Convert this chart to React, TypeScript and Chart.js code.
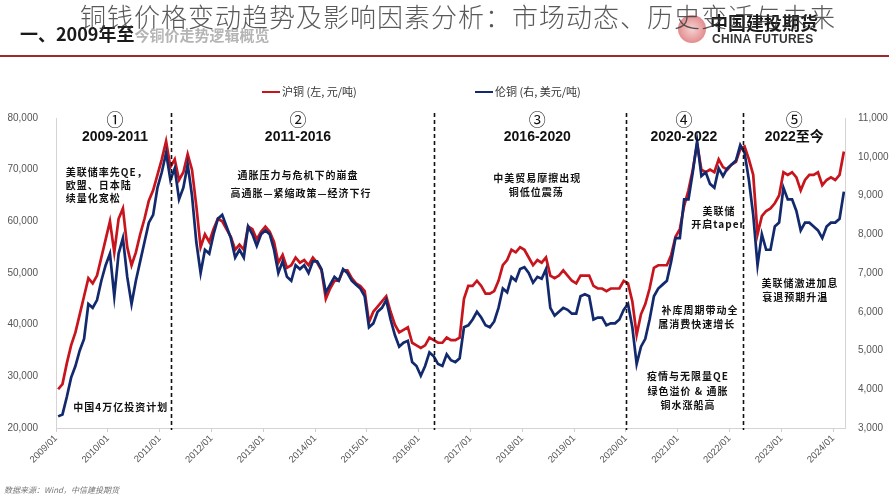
import React, { useEffect, useRef } from 'react';
import { Chart, registerables } from 'chart.js';

Chart.register(...registerables);

// ---- categories: monthly points, 2009/01 .. 2024/03 ----
const months: string[] = [];
for (let y = 2009; y <= 2024; y++) {
  for (let m = 1; m <= 12; m++) {
    if (y === 2024 && m > 3) break;
    months.push(`${y}-${String(m).padStart(2, '0')}`);
  }
}

// 沪铜 SHFE copper, CNY/t (left axis)
const shfe: number[] = [
  27500, 28500, 32500, 36000, 38500, 42000, 45500, 49000, 48000, 49500, 53000, 56500, // 2009
  60000, 54000, 60500, 62500, 55000, 51500, 54000, 57500, 60500, 64000, 66000, 69000, // 2010
  72000, 75500, 70500, 72000, 68000, 69500, 73000, 70000, 63000, 55000, 57500, 56000, // 2011
  58500, 60500, 60000, 58500, 57000, 54500, 55500, 54500, 59000, 58500, 56500, 58000, // 2012
  59000, 58000, 56000, 52000, 53500, 51000, 51500, 53000, 52000, 52500, 51500, 53000, // 2013
  52000, 50500, 45000, 47000, 48500, 48500, 50500, 50500, 49000, 48000, 47500, 46500, // 2014
  40500, 42500, 43500, 44500, 45500, 42500, 40000, 38500, 39000, 39500, 36500, 36000, // 2015
  35500, 36000, 37500, 37000, 36500, 36500, 37500, 37000, 37000, 37500, 45000, 47500, // 2016
  47500, 48500, 47500, 46000, 46000, 46500, 48500, 51500, 52500, 54500, 54000, 55000, // 2017
  54500, 53000, 51500, 52500, 52000, 53000, 49500, 49000, 49500, 50500, 49500, 48500, // 2018
  48000, 49500, 49500, 49500, 47500, 47000, 47000, 46500, 47000, 47000, 47000, 48500, // 2019
  48000, 44500, 38000, 42000, 44000, 47000, 51000, 51500, 51500, 51500, 53500, 57000, // 2020
  58500, 63000, 66000, 70000, 75000, 70000, 69500, 70000, 69500, 72000, 70500, 70000, // 2021
  71000, 71500, 74000, 74500, 72000, 69000, 57500, 61000, 62000, 62500, 63500, 65000, // 2022
  69500, 69000, 69500, 68500, 66000, 68000, 69000, 69000, 69500, 67000, 68000, 68500, // 2023
  68000, 69000, 73500, // 2024
];

// 伦铜 LME copper, USD/t (right axis)
const lme: number[] = [
  3300, 3350, 3800, 4300, 4600, 5000, 5300, 6200, 6100, 6300, 6800, 7200, // 2009
  7500, 6400, 7500, 7900, 6900, 6200, 6800, 7300, 7800, 8300, 8500, 9200, // 2010
  9600, 10100, 9400, 9700, 8900, 9200, 9800, 9000, 7800, 7000, 7600, 7500, // 2011
  8000, 8400, 8500, 8200, 7900, 7400, 7600, 7400, 8200, 8000, 7700, 8000, // 2012
  8100, 8000, 7600, 7000, 7300, 6900, 6800, 7200, 7100, 7200, 7000, 7300, // 2013
  7300, 7100, 6500, 6700, 6900, 6800, 7100, 7000, 6800, 6700, 6600, 6400, // 2014
  5600, 5700, 6000, 6100, 6300, 5800, 5400, 5100, 5200, 5250, 4700, 4600, // 2015
  4350, 4600, 4950, 4850, 4650, 4600, 4900, 4750, 4700, 4800, 5600, 5650, // 2016
  5800, 6000, 5850, 5650, 5600, 5750, 6100, 6600, 6500, 6900, 6800, 7100, // 2017
  7150, 7000, 6750, 6900, 6850, 7100, 6100, 5900, 6000, 6100, 6050, 5950, // 2018
  5950, 6400, 6450, 6400, 5800, 5850, 5850, 5650, 5700, 5700, 5800, 6050, // 2019
  6200, 5600, 4650, 5100, 5300, 5800, 6400, 6600, 6700, 6800, 7300, 7900, // 2020
  7900, 8900, 8900, 9600, 10400, 9500, 9600, 9300, 9200, 9700, 9500, 9700, // 2021
  9800, 9900, 10300, 10100, 9400, 8500, 7200, 8000, 7600, 7600, 8200, 8300, // 2022
  9200, 8900, 8900, 8600, 8100, 8300, 8300, 8200, 8100, 7900, 8200, 8300, // 2023
  8300, 8400, 9100, // 2024
];

const xTickLabels: string[] = [
  '2009/01', '2010/01', '2011/01', '2012/01', '2013/01', '2014/01', '2015/01', '2016/01',
  '2017/01', '2018/01', '2019/01', '2020/01', '2021/01', '2022/01', '2023/01', '2024/01',
];

const seriesNames = ['沪铜 (左, 元/吨)', '伦铜 (右, 美元/吨)'];

// period dividers (fractional years)
const dividers: number[] = [2011.22, 2016.3, 2020.0, 2022.26];

const periodNums = ['①', '②', '③', '④', '⑤'];
const periodLabels = ['2009-2011', '2011-2016', '2016-2020', '2020-2022', '2022至今'];
const periodCenters = [2010.14, 2013.67, 2018.29, 2021.12, 2023.25];

// annotation notes: [text, year, left-axis value, align]
const notes: [string, number, number, CanvasTextAlign][] = [
  ['美联储率先QE，', 2009.19, 69550, 'left'],
  ['欧盟、日本陆', 2009.19, 67030, 'left'],
  ['续量化宽松', 2009.19, 64520, 'left'],
  ['中国4万亿投资计划', 2010.25, 24070, 'center'],
  ['通胀压力与危机下的崩盘', 2013.67, 68970, 'center'],
  ['高通胀—紧缩政策—经济下行', 2013.73, 65480, 'center'],
  ['中美贸易摩擦出现', 2018.29, 68390, 'center'],
  ['铜低位震荡', 2018.27, 65680, 'center'],
  ['美联储', 2021.8, 62000, 'center'],
  ['开启taper', 2021.78, 59480, 'center'],
  ['补库周期带动全', 2021.43, 42840, 'center'],
  ['属消费快速增长', 2021.37, 40130, 'center'],
  ['疫情与无限量QE', 2021.2, 30070, 'center'],
  ['绿色溢价 & 通胀', 2021.2, 27160, 'center'],
  ['铜水涨船高', 2021.2, 24450, 'center'],
  ['美联储激进加息', 2023.36, 48070, 'center'],
  ['衰退预期升温', 2023.27, 45360, 'center'],
];

const RED = '#c8141c';
const BLUE = '#12296e';

const toYear = (m: string) => {
  const [y, mo] = m.split('-').map(Number);
  return y + (mo - 0.5) / 12;
};

const overlayPlugin = {
  id: 'overlay',
  afterDatasetsDraw(chart: any) {
    const { ctx, chartArea, scales } = chart;
    const xs = scales.x;
    const yl = scales.yL;
    ctx.save();
    // dividers
    ctx.setLineDash([4, 3]);
    ctx.strokeStyle = '#111';
    ctx.lineWidth = 1.6;
    dividers.forEach((d) => {
      const x = Math.round(xs.getPixelForValue(d)) + 0.5;
      ctx.beginPath();
      ctx.moveTo(x, chartArea.top - 5);
      ctx.lineTo(x, chartArea.bottom + 2);
      ctx.stroke();
    });
    ctx.setLineDash([]);

    // period headings
    ctx.fillStyle = '#111';
    ctx.textAlign = 'center';
    ctx.textBaseline = 'middle';
    periodNums.forEach((n, i) => {
      const x = xs.getPixelForValue(periodCenters[i]);
      ctx.font = '17px "Noto Sans CJK SC", "DejaVu Sans", sans-serif';
      ctx.fillText(n, x, chartArea.top + 2);
      ctx.font = 'bold 14px "Liberation Sans", "Noto Sans CJK SC", sans-serif';
      ctx.fillText(periodLabels[i], x, chartArea.top + 19);
    });

    // notes
    ctx.font = 'bold 10px "Noto Sans CJK SC", sans-serif';
    try { (ctx as any).letterSpacing = '1px'; } catch (e) { /* ignore */ }
    notes.forEach(([t, yr, v, al]) => {
      ctx.textAlign = al;
      ctx.fillText(t, xs.getPixelForValue(yr), yl.getPixelForValue(v));
    });
    try { (ctx as any).letterSpacing = '0px'; } catch (e) { /* ignore */ }

    // legend
    ctx.font = '11px "Noto Sans CJK SC", sans-serif';
    ctx.textAlign = 'left';
    ctx.fillStyle = '#333';
    const items: [string, string, number][] = [
      [seriesNames[0], RED, 262],
      [seriesNames[1], BLUE, 475],
    ];
    items.forEach(([label, color, x0]) => {
      ctx.strokeStyle = color;
      ctx.lineWidth = 2;
      ctx.beginPath();
      ctx.moveTo(x0, 92);
      ctx.lineTo(x0 + 18, 92);
      ctx.stroke();
      ctx.fillText(label, x0 + 20, 92);
    });
    ctx.restore();
  },
};

export default function App() {
  const ref = useRef<HTMLCanvasElement | null>(null);

  useEffect(() => {
    if (!ref.current) return;
    const chart = new Chart(ref.current, {
      type: 'line',
      data: {
        datasets: [
          {
            label: seriesNames[1],
            data: months.map((m, i) => ({ x: toYear(m), y: lme[i] })),
            yAxisID: 'yR',
            borderColor: BLUE,
            borderWidth: 2.7,
            pointRadius: 0,
            tension: 0,
          },
          {
            label: seriesNames[0],
            data: months.map((m, i) => ({ x: toYear(m), y: shfe[i] })),
            yAxisID: 'yL',
            borderColor: RED,
            borderWidth: 2.7,
            pointRadius: 0,
            tension: 0,
          },
        ],
      },
      options: {
        animation: false,
        responsive: false,
        maintainAspectRatio: false,
        layout: { padding: { top: 118, left: 0, right: 0, bottom: 0 } },
        plugins: { legend: { display: false }, tooltip: { enabled: false } },
        scales: {
          x: {
            type: 'linear',
            min: 2009,
            max: 2024.23,
            afterBuildTicks: (axis: any) => {
              axis.ticks = xTickLabels.map((_, i) => ({ value: 2009 + i }));
            },
            afterFit: (axis: any) => { axis.height = 72; },
            ticks: {
              autoSkip: false,
              minRotation: 45,
              maxRotation: 45,
              padding: 1,
              color: '#555',
              font: { size: 9.5, family: '"Liberation Sans", Arial, sans-serif' },
              callback: (v: any) => xTickLabels[Math.round(Number(v)) - 2009] ?? '',
            },
            grid: { drawOnChartArea: false, drawTicks: true, tickLength: 4, color: '#cfcfcf' },
            border: { color: '#d4d4d4', width: 1 },
          },
          yL: {
            type: 'linear',
            position: 'left',
            min: 20000,
            max: 80000,
            afterFit: (axis: any) => { axis.width = 56; },
            ticks: {
              stepSize: 10000,
              padding: 10,
              color: '#555',
              font: { size: 10, family: '"Liberation Sans", Arial, sans-serif' },
              callback: (v: any) => Number(v).toLocaleString('en-US'),
            },
            grid: { display: false },
            border: { color: '#d4d4d4', width: 1 },
          },
          yR: {
            type: 'linear',
            position: 'right',
            min: 3000,
            max: 11000,
            afterFit: (axis: any) => { axis.width = 44; },
            ticks: {
              stepSize: 1000,
              padding: 5,
              color: '#555',
              font: { size: 10, family: '"Liberation Sans", Arial, sans-serif' },
              callback: (v: any) => Number(v).toLocaleString('en-US'),
            },
            grid: { display: false },
            border: { color: '#d4d4d4', width: 1 },
          },
        },
      },
      plugins: [overlayPlugin],
    });
    return () => chart.destroy();
  }, []);

  return (
    <div style={{ position: 'fixed', left: 0, top: 0, width: 889, height: 500, background: '#fff', overflow: 'hidden' }}>
      <canvas ref={ref} width={889} height={500} style={{ position: 'absolute', left: 0, top: 0, width: 889, height: 500 }} />
      {/* header */}
      <div style={{ position: 'absolute', left: 20, top: 22, fontFamily: '"Noto Sans CJK SC", sans-serif', fontWeight: 700, fontSize: 18, color: '#1a1a1a', whiteSpace: 'nowrap', lineHeight: '22px' }}>
        一、2009年至<span style={{ color: '#b5b5b5', fontSize: 15 }}>今铜价走势逻辑概览</span>
      </div>
      <div style={{ position: 'absolute', left: 678, top: 15, width: 28, height: 28, borderRadius: '50%', background: 'radial-gradient(circle, #f3c4c4 0%, #d9686a 70%, #c9474a 100%)', opacity: 0.75 }} />
      <div style={{ position: 'absolute', left: 710, top: 11, fontFamily: '"Noto Sans CJK SC", sans-serif', fontWeight: 700, fontSize: 18, color: '#1a1a1a', whiteSpace: 'nowrap', lineHeight: '22px' }}>
        中国建投期货
      </div>
      <div style={{ position: 'absolute', left: 712, top: 32, fontFamily: '"Liberation Sans", Arial, sans-serif', fontWeight: 700, fontSize: 12, color: '#333', whiteSpace: 'nowrap', lineHeight: '14px', letterSpacing: 0.3 }}>
        CHINA FUTURES
      </div>
      <div style={{ position: 'absolute', left: 80, top: 1, fontFamily: '"Noto Sans CJK SC", sans-serif', fontWeight: 300, fontSize: 26, color: 'rgba(60,60,60,0.85)', whiteSpace: 'nowrap', lineHeight: '30px', letterSpacing: 1 }}>
        铜钱价格变动趋势及影响因素分析：市场动态、历史变迁与未来
      </div>
      <div style={{ position: 'absolute', left: 0, top: 55, width: 889, height: 2, background: '#9e2a2b' }} />
      <div style={{ position: 'absolute', left: 4, top: 485, fontFamily: '"Noto Sans CJK SC", sans-serif', fontSize: 8, fontStyle: 'italic', color: '#777', whiteSpace: 'nowrap', lineHeight: '10px' }}>
        数据来源：Wind，中信建投期货
      </div>
    </div>
  );
}
